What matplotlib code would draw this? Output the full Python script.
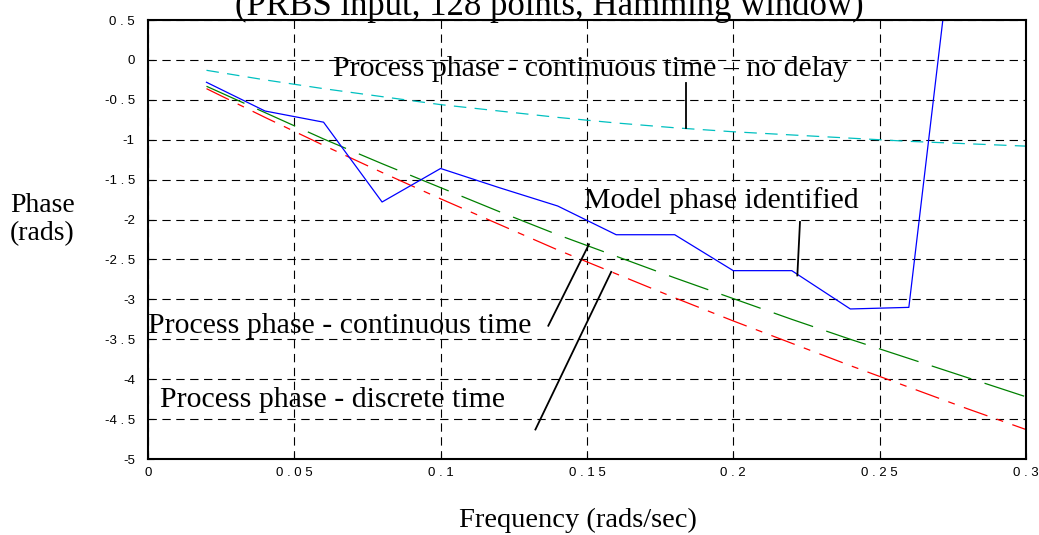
import numpy as np
import matplotlib.pyplot as plt

plt.rcParams['lines.scale_dashes'] = False

# frequency points (rads/sec)
freq = [0.02, 0.04, 0.06, 0.08, 0.10, 0.12, 0.14, 0.16, 0.18, 0.20, 0.22, 0.24, 0.26, 0.28, 0.30]

# phase curves (rads)
model_phase = [-0.28, -0.64, -0.78, -1.78, -1.36, -1.60, -1.83, -2.19, -2.19, -2.64, -2.64, -3.12, -3.10, 3.10, 2.90]
cont_phase = [-0.33, -0.66, -0.99, -1.30, -1.60, -1.90, -2.19, -2.46, -2.73, -2.99, -3.25, -3.50, -3.74, -3.98, -4.22]
disc_phase = [-0.36, -0.72, -1.07, -1.41, -1.74, -2.06, -2.38, -2.68, -2.98, -3.27, -3.55, -3.83, -4.10, -4.37, -4.63]
nodelay_phase = [-0.13, -0.25, -0.36, -0.46, -0.56, -0.64, -0.72, -0.79, -0.85, -0.90, -0.94, -0.98, -1.02, -1.05, -1.08]

xticks = [0, 0.05, 0.1, 0.15, 0.2, 0.25, 0.3]
xtick_labels = ["0", "0 . 0 5", "0 . 1", "0 . 1 5", "0 . 2", "0 . 2 5", "0 . 3"]
yticks = [0.5, 0, -0.5, -1, -1.5, -2, -2.5, -3, -3.5, -4, -4.5, -5]
ytick_labels = ["0 . 5", "0", "-0 . 5", "-1", "-1 . 5", "-2", "-2 . 5", "-3", "-3 . 5", "-4", "-4 . 5", "-5"]

# annotation labels: text, text anchor (x, y), pointer line start, pointer line end
labels = ["Process phase - continuous time \u2013 no delay", "Model phase identified",
          "Process phase - continuous time", "Process phase - discrete time"]
label_pos = [(0.0634, -0.20), (0.149, -1.85), (0.0, -3.42), (0.004, -4.35)]
pointer_from = [(0.184, -0.285), (0.2228, -2.03), (0.1368, -3.33), (0.1324, -4.63)]
pointer_to = [(0.184, -0.855), (0.2219, -2.70), (0.1507, -2.31), (0.1583, -2.655)]

serif = 'Liberation Serif'

fig = plt.figure(figsize=(10.39, 5.35), dpi=100)
ax = fig.add_axes([0.1424, 0.142, 0.845, 0.8206])

ax.plot(freq, nodelay_phase, color='#00c0c0', lw=0.9, dashes=(9, 6))
ax.plot(freq, disc_phase, color='#ff0000', lw=0.9, dashes=(18, 7, 5, 7))
ax.plot(freq, cont_phase, color='#008000', lw=0.9, dashes=(30, 10))
ax.plot(freq, model_phase, color='#0000ff', lw=0.9)

for txt, (tx, ty), (x0, y0), (x1, y1) in zip(labels, label_pos, pointer_from, pointer_to):
    ax.text(tx, ty, txt, fontsize=21.5, family=serif, ha='left', va='baseline')
    ax.plot([x0, x1], [y0, y1], color='black', lw=1.3)

ax.set_xlim(0, 0.3)
ax.set_ylim(-5, 0.5)
ax.set_xticks(xticks)
ax.set_xticklabels(xtick_labels)
ax.set_yticks(yticks)
ax.set_yticklabels(ytick_labels)
ax.tick_params(direction='in', length=4, labelsize=9.5)
ax.tick_params(axis='x', pad=6)
ax.tick_params(axis='y', pad=9.5)
for lab in ax.get_xticklabels() + ax.get_yticklabels():
    lab.set_family('Liberation Sans')
ax.grid(True, color='black', lw=0.8, dashes=(6, 4))
for sp in ax.spines.values():
    sp.set_linewidth(1.5)

fig.text(0.529, 0.972, "(PRBS input, 128 points, Hamming window)", fontsize=25,
         family=serif, ha='center', va='baseline')
fig.text(0.5558, 0.015, "Frequency (rads/sec)", fontsize=20.5, family=serif, ha='center', va='baseline')
fig.text(0.0096, 0.6037, "Phase", fontsize=20, family=serif, ha='left', va='baseline')
fig.text(0.0096, 0.5514, "(rads)", fontsize=20, family=serif, ha='left', va='baseline')

fig.savefig('out.png', dpi=100)
